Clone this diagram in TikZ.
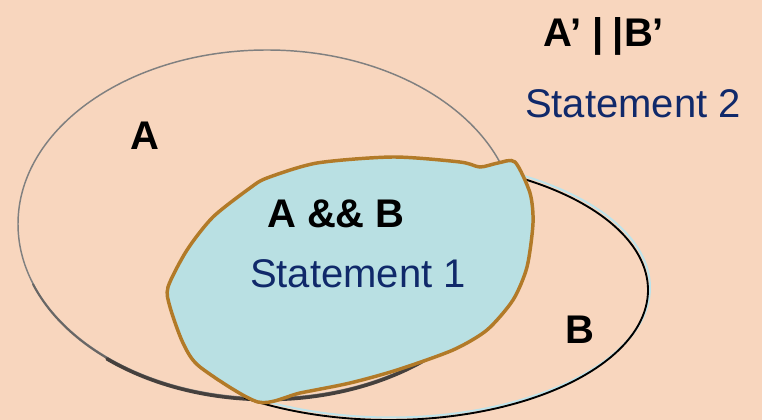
\documentclass[tikz,border=0pt]{standalone}
\usepackage{fontspec}
\setmainfont{Liberation Sans}
\usetikzlibrary{calc}

\definecolor{peach}{HTML}{F8D6BE}
\definecolor{blobfill}{HTML}{B9E0E3}
\definecolor{blobline}{HTML}{B27A28}
\definecolor{navy}{HTML}{10296A}
\definecolor{darkrim}{HTML}{45403D}
\definecolor{rimblue}{HTML}{BFE3EA}

\tikzset{
  setlabel/.style={font=\fontsize{30}{36}\selectfont\bfseries, anchor=base},
  stmt/.style={font=\fontsize{30}{36}\selectfont, text=navy, anchor=base},
}

\begin{document}
\begin{tikzpicture}[x=0.75pt, y=-0.75pt]
\def\xA{267}
\def\yA{224}
\def\rxA{249}
\def\ryA{174}
\def\xB{389}
\def\yB{290}
\def\rxB{259}
\def\ryB{130}

\coordinate (A) at (\xA,\yA);
\coordinate (B) at (\xB,\yB);

\fill[peach] (0,0) rectangle (762,420);
\useasboundingbox (0,0) rectangle (762,420);

% set A, with its shadow underneath
\draw[gray, line width=1.1pt] (A) ellipse [x radius=\rxA, y radius=\ryA];
\draw[gray!60!darkrim, line width=1.5pt, line cap=round]
  plot[domain=40:160, samples=80] ({\xA+\rxA*cos(\x)}, {\yA+\ryA*sin(\x)+0.8});
\draw[darkrim, line width=2.6pt, line cap=round]
  plot[domain=40:130, samples=80] ({\xA+\rxA*cos(\x)}, {\yA+\ryA*sin(\x)+1.6});

% set B
\draw[rimblue, line width=1.5pt]
  plot[domain=-64:124, samples=120] ({\xB+\rxB*cos(\x)+2}, {\yB+\ryB*sin(\x)-2.5});
\draw[black, line width=1.4pt]
  plot[domain=-64:124, samples=120] ({\xB+\rxB*cos(\x)}, {\yB+\ryB*sin(\x)});

% A && B region
\filldraw[fill=blobfill, draw=blobline, line width=2.6pt]
  plot[smooth cycle, tension=0.45] coordinates {
    (168,287) (187,250) (213,217) (250,188) (267,178) (317,163) (393,157)
    (460,162) (480,167) (498,163) (515,162) (530,193) (533,223) (527,267)
    (513,300) (487,330) (453,350) (397,370) (350,383) (300,393) (258,402)
    (200,367) (183,343) (170,307)};

\node[setlabel] (labA) at (145,150) {A};
\node[setlabel] (labAB) at (336,227) {A \&\& B};
\node[stmt] (st1) at (358,287) {Statement 1};
\node[setlabel] (labB) at (580,343) {B};
\node[setlabel] (labNot) at (604,47) {A’ |\hspace{0.22em}|B’};
\node[stmt] (st2) at (633,118) {Statement 2};
\end{tikzpicture}
\end{document}
